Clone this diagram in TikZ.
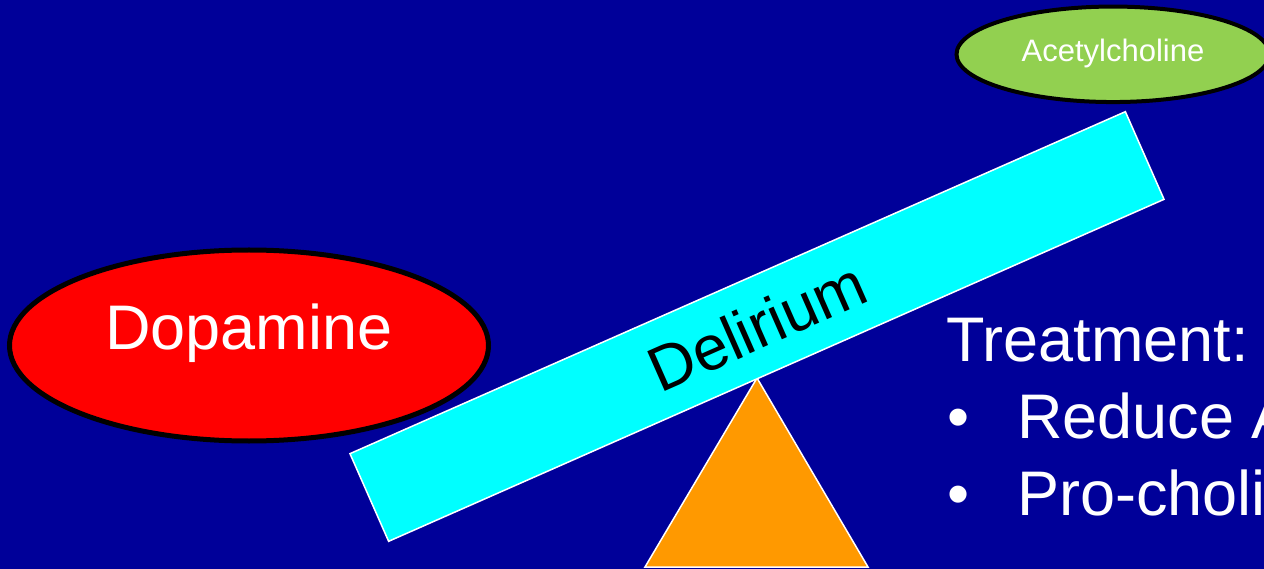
\documentclass[tikz,border=0pt]{standalone}
\usepackage{fontspec}
\setmainfont{Liberation Sans}
\usetikzlibrary{shapes.geometric}
\definecolor{bgblue}{RGB}{0,0,153}
\definecolor{barcyan}{RGB}{0,255,255}
\definecolor{fulcrumorange}{RGB}{255,153,0}
\definecolor{dopred}{RGB}{255,0,0}
\definecolor{achgreen}{RGB}{146,208,80}
\begin{document}
\begin{tikzpicture}[x=1pt,y=-1pt,
  blob/.style={ellipse, draw=black, inner sep=0pt, outer sep=0pt, text=white},
  bigtext/.style={font=\fontsize{63}{70}\selectfont},
  smalltext/.style={font=\fontsize{31}{36}\selectfont},
  seesaw/.style={rectangle, fill=barcyan, draw=white, line width=1.5pt, inner sep=0pt,
    minimum width=847.5pt, minimum height=95.8pt, rotate=23.8, text=black},
  listtext/.style={bigtext, text=white, inner sep=0pt, anchor=base west}]
\useasboundingbox (0,0) rectangle (1264,569);
\clip (0,0) rectangle (1264,569);
\fill[bgblue] (0,0) rectangle (1264,569);
% fulcrum
\coordinate (apex) at (757,378);
\coordinate (baseL) at (645,567);
\coordinate (baseR) at (868,567);
\draw[fill=fulcrumorange, draw=white, line width=1.5pt] (apex) -- (baseL) -- (baseR) -- cycle;
% seesaw bar
\node[seesaw, bigtext] (bar) at (757,326.5) {Delirium};
% dopamine
\node[blob, fill=dopred, line width=5pt, minimum width=479pt, minimum height=191pt,
  bigtext, text height=45pt, text depth=36pt] (dop) at (249,345.5) {Dopamine};
% acetylcholine
\node[blob, fill=achgreen, line width=4pt, minimum width=313pt, minimum height=95.5pt,
  smalltext, text height=22pt, text depth=6.6pt] (ach) at (1113,54.3) {Acetylcholine};
% treatment text
\node[listtext] (treat) at (946.5,361.7) {Treatment:};
\node[listtext] (b1) at (947,438) {•};
\node[listtext] (t1) at (1017,438) {Reduce A};
\node[listtext] (b2) at (947,515) {•};
\node[listtext] (t2) at (1017,515) {Pro-choli};
\end{tikzpicture}
\end{document}
